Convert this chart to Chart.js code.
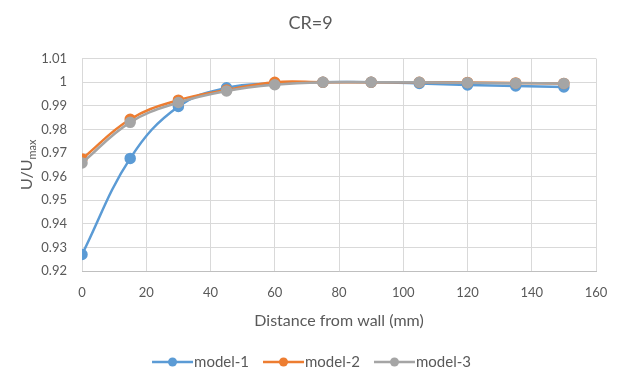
<!DOCTYPE html>
<html><head><meta charset="utf-8">
<script src="https://cdn.jsdelivr.net/npm/chart.js@4/dist/chart.umd.min.js"></script>
<style>html,body{margin:0;padding:0;background:#fff}#wrap{width:617px;height:376px}</style>
</head><body><div id="wrap"><canvas id="c" width="617" height="376"></canvas></div>
<script>
const distances = [0, 15, 30, 45, 60, 75, 90, 105, 120, 135, 150];
const model1 = [0.927, 0.9677, 0.9897, 0.9976, 0.9995, 1.0, 1.0, 0.9995, 0.9988, 0.9984, 0.998];
const model2 = [0.9675, 0.9843, 0.9924, 0.9967, 1.0, 1.0, 1.0, 1.0, 0.9999, 0.9997, 0.9995];
const model3 = [0.9658, 0.9830, 0.9914, 0.9963, 0.9989, 1.0, 1.0, 1.0, 0.9998, 0.9996, 0.9995];
const seriesNames = ['model-1', 'model-2', 'model-3'];
const seriesColors = ['#5b9bd5', '#ed7d31', '#a5a5a5'];
const chartTitle = 'CR=9';
const xTitle = 'Distance from wall (mm)';
const FONT = 'Lato, "Open Sans", sans-serif';
const TXT = '#595959';

function pts(ys){ return distances.map((x,i)=>({x:x,y:ys[i]})); }

const titlesPlugin = {
  id:'titles',
  afterDraw(chart){
    const ctx = chart.ctx; const area = chart.chartArea;
    ctx.save();
    ctx.fillStyle = TXT;
    ctx.textBaseline = 'middle'; ctx.textAlign = 'center';
    ctx.font = '18px ' + FONT;
    ctx.fillText(chartTitle, 310.5, 23);
    const cy = (area.top+area.bottom)/2;
    ctx.translate(27, cy);
    ctx.rotate(-Math.PI/2);
    const big = '16px ' + FONT, small = '11px ' + FONT;
    ctx.font = big; const w1 = ctx.measureText('U/U').width;
    ctx.font = small; const w2 = ctx.measureText('max').width;
    const start = -(w1+w2)/2;
    ctx.font = big; ctx.textAlign='left'; ctx.fillText('U/U', start, 0);
    ctx.font = small; ctx.fillText('max', start + w1, 5);
    ctx.restore();
  }
};

const legendPlugin = {
  id:'customLegend',
  afterDraw(chart){
    const ctx = chart.ctx;
    const ds = chart.data.datasets;
    const lineW = 41, gapText = 1, gapItem = 14, cy = 362;
    ctx.save();
    ctx.font = '15px ' + FONT;
    const widths = ds.map(d => ctx.measureText(d.label).width);
    const total = widths.reduce((a,w)=>a + lineW + gapText + w, 0) + gapItem*(ds.length-1);
    let x = 311.5 - total/2;
    ds.forEach((d,i)=>{
      ctx.strokeStyle = d.borderColor; ctx.lineWidth = 2.5;
      ctx.beginPath(); ctx.moveTo(x, cy); ctx.lineTo(x+lineW, cy); ctx.stroke();
      ctx.fillStyle = d.borderColor; ctx.beginPath(); ctx.arc(x+lineW/2, cy, 4.5, 0, Math.PI*2); ctx.fill();
      ctx.fillStyle = TXT; ctx.textBaseline='middle'; ctx.textAlign='left';
      ctx.fillText(d.label, x+lineW+gapText, cy);
      x += lineW + gapText + widths[i] + gapItem;
    });
    ctx.restore();
  }
};

const mk = (i, data, order) => ({
  label: seriesNames[i], data: pts(data), borderColor: seriesColors[i], backgroundColor: seriesColors[i],
  borderWidth: 2.5, pointRadius: 4.5, pointHoverRadius: 4.5, tension: 0.4, order: order, fill:false
});

new Chart(document.getElementById('c'), {
  type:'line',
  data:{ datasets:[ mk(0, model1, 2), mk(1, model2, 1), mk(2, model3, 0) ] },
  options:{
    responsive:false, animation:false, devicePixelRatio:1,
    layout:{ padding:{ left:0, right:21, top:58.6, bottom:29 } },
    plugins:{
      title:{ display:false },
      tooltip:{enabled:false},
      legend:{ display:false }
    },
    scales:{
      x:{ type:'linear', min:0, max:160,
        ticks:{ stepSize:20, color:TXT, font:{family:FONT, size:13}, padding:14 },
        grid:{ color:'#d9d9d9', drawTicks:false },
        border:{ color:'#bfbfbf' },
        title:{ display:true, text:xTitle, color:TXT, font:{family:FONT, size:16}, padding:{top:0, bottom:17} },
        afterFit(scale){ scale.height = 76; scale.paddingLeft = 0; scale.paddingRight = 0; }
      },
      y:{ min:0.92, max:1.01,
        ticks:{ stepSize:0.01, color:TXT, font:{family:FONT, size:13}, padding:15,
          callback:(v)=>String(Number(v.toFixed(2))) },
        grid:{ color:'#d9d9d9', drawTicks:false },
        border:{ display:false },
        afterFit(scale){ scale.width = 82; scale.paddingTop = 0; scale.paddingBottom = 0; }
      }
    }
  },
  plugins:[titlesPlugin, legendPlugin]
});
</script></body></html>
